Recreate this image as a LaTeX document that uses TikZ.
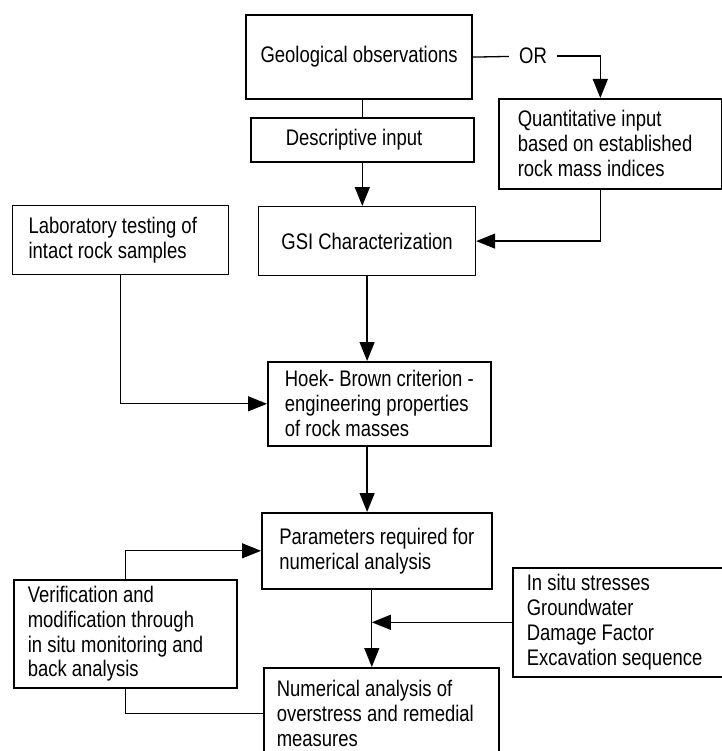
\documentclass[tikz,border=0pt]{standalone}
\usepackage{fontspec}
\setmainfont{Liberation Sans}[FakeStretch=0.82]
\usetikzlibrary{arrows.meta, positioning}

\begin{document}
\begin{tikzpicture}[x=1bp, y=-1bp, >={Triangle[length=19bp,width=15bp]},
    box/.style={draw, line width=1.6bp, rectangle, anchor=north west, align=flush left,
      inner sep=0pt, font=\fontsize{22.6}{25}\selectfont},
    link/.style={line width=1.3bp}]
  \useasboundingbox (0,0) rectangle (722,751);
  \clip (0,0) rectangle (722,751);

  % Nodes
  \node[box, line width=2.2bp, minimum width=226bp, minimum height=84bp] (geo) at (245,14) {Geological observations};
  \node[box, inner xsep=35bp, text width=153bp, minimum height=44bp] (desc) at (250,117) {Descriptive input};
  \node[box, inner xsep=19bp, text width=185bp, minimum height=90bp] (quant) at (498,98)
    {Quantitative input\\based on established\\rock mass indices};
  \node[box, line width=1.2bp, minimum width=217bp, minimum height=69bp] (gsi) at (258,206) {GSI Characterization};
  \node[box, line width=1.2bp, inner xsep=16bp, text width=184bp, minimum height=69bp] (lab) at (12,205)
    {Laboratory testing of\\intact rock samples};
  \node[box, minimum width=223bp, minimum height=84bp] (hoek) at (267,361)
    {Hoek- Brown criterion -\\engineering properties\\of rock masses};
  \node[box, minimum width=230bp, minimum height=76bp] (param) at (261,512)
    {Parameters required for\\numerical analysis};
  \node[box, inner xsep=14bp, text width=195bp, minimum height=108bp] (verif) at (13,579)
    {Verification and\\modification through\\in situ monitoring and\\back analysis};
  \node[box, inner xsep=14bp, text width=190bp, minimum height=109bp] (insitu) at (512,567)
    {In situ stresses\\Groundwater\\Damage Factor\\Excavation sequence};
  \node[box, inner xsep=13bp, text width=209bp, minimum height=92bp] (num) at (263,667)
    {Numerical analysis of\\overstress and remedial\\measures};
  \node[font=\fontsize{22.6}{25}\selectfont, inner xsep=10bp] (or) at (533,56) {OR};
  \coordinate (join) at ([xshift=-5bp]param.south |- insitu.west);

  % Arrows
  \draw[link] (desc.north) -- (desc.north |- geo.south);
  \draw[link, ->] (desc.south) -- (desc.south |- gsi.north);
  \draw[link] (geo.east) -- (or);
  \draw[link, ->] (or) -| ([xshift=-10bp]quant.north);
  \draw[link, ->] ([xshift=-10bp]quant.south) |- (gsi.east);
  \draw[link, ->] (gsi.south) -- (gsi.south |- hoek.north);
  \draw[link, ->] (lab.south) |- (hoek.west);
  \draw[link, ->] (hoek.south -| gsi.south) -- (param.north -| gsi.south);
  \draw[link] ([xshift=-5bp]param.south) -- (join);
  \draw[link, ->] (insitu.west) -- (join);
  \draw[link, ->] (join) -- (join |- num.north);
  \draw[link, ->] (verif.north) |- (param.west);
  \draw[link] (verif.south) |- (num.west);
\end{tikzpicture}
\end{document}
